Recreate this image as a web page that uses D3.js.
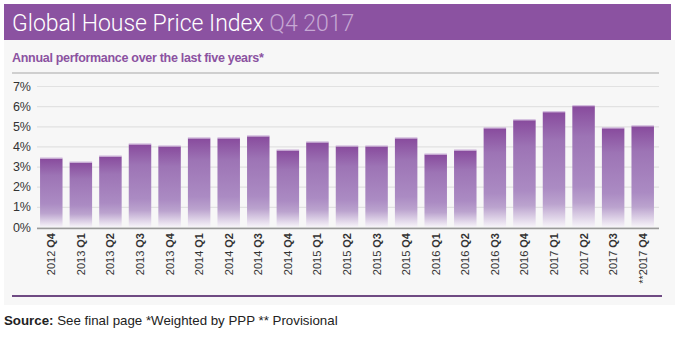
<!DOCTYPE html>
<html>
<head>
<meta charset="utf-8">
<script src="https://cdn.jsdelivr.net/npm/d3@7"></script>
<style>
  body { margin: 0; background: #fff; }
  svg { display: block; }
</style>
</head>
<body>
<div id="chart"></div>
<script>
const years = ["2012", "2013", "2013", "2013", "2013", "2014", "2014", "2014", "2014",
  "2015", "2015", "2015", "2015", "2016", "2016", "2016", "2016", "2017", "2017", "2017", "**2017"];
const quarters = ["Q4", "Q1", "Q2", "Q3", "Q4", "Q1", "Q2", "Q3", "Q4",
  "Q1", "Q2", "Q3", "Q4", "Q1", "Q2", "Q3", "Q4", "Q1", "Q2", "Q3", "Q4"];
const values = [3.4, 3.2, 3.5, 4.1, 4.0, 4.4, 4.4, 4.5, 3.8,
  4.2, 4.0, 4.0, 4.4, 3.6, 3.8, 4.9, 5.3, 5.7, 6.0, 4.9, 5.0];
const yTicks = [0, 1, 2, 3, 4, 5, 6, 7];

const width = 680;
const height = 337;
const purple = "#8b52a1";

const data = values.map((v, i) => ({ key: i, year: years[i], q: quarters[i], value: v }));

const svg = d3.select("#chart")
  .append("svg")
  .attr("width", width)
  .attr("height", height)
  .style("font-family", "'Liberation Sans', Arial, sans-serif");

// gradient for the bars
const grad = svg.append("defs")
  .append("linearGradient")
  .attr("id", "bargrad")
  .attr("x1", "0%").attr("x2", "0%")
  .attr("y1", "0%").attr("y2", "100%");
grad.append("stop").attr("offset", "0%").style("stop-color", "#884b9d");
grad.append("stop").attr("offset", "25%").style("stop-color", "#9d74b5");
grad.append("stop").attr("offset", "66%").style("stop-color", "#ab8bc3");
grad.append("stop").attr("offset", "80%").style("stop-color", "#bba3ce");
grad.append("stop").attr("offset", "100%").style("stop-color", "#f7f4f9");

// panel + header
svg.append("rect").attr("x", 4).attr("y", 40).attr("width", 671).attr("height", 265).attr("fill", "#f7f7f7");
svg.append("rect").attr("x", 4).attr("y", 4).attr("width", 667).attr("height", 36).attr("fill", purple);

const title = svg.append("text")
  .attr("x", 12).attr("y", 31)
  .style("font-family", "Roboto, 'Liberation Sans', sans-serif")
  .style("font-weight", 300)
  .style("font-size", "23px");
title.append("tspan").attr("fill", "#fff").text("Global House Price Index ");
title.append("tspan").attr("fill", "#c6a8d4").text("Q4 2017");

svg.append("text")
  .attr("x", 12).attr("y", 62)
  .attr("fill", purple)
  .style("font-weight", "bold")
  .style("font-size", "12.5px")
  .style("letter-spacing", "-0.3px")
  .text("Annual performance over the last five years*");

svg.append("line")
  .attr("x1", 12).attr("x2", 659).attr("y1", 73).attr("y2", 73)
  .attr("stroke", "#cfcfcf").attr("stroke-width", 2);

// scales
const x = d3.scaleBand()
  .domain(data.map((d) => d.key))
  .range([36.5, 657.5])
  .paddingInner(0.24)
  .paddingOuter(0.12);

const y = d3.scaleLinear()
  .domain([0, 7])
  .range([227, 86]);

// gridlines + y labels
const yAxis = svg.append("g")
  .attr("transform", "translate(37,0)")
  .call(d3.axisLeft(y).tickValues(yTicks).tickSize(-622).tickFormat((d) => d + "%"));
yAxis.select(".domain").remove();
yAxis.selectAll(".tick line").attr("stroke", "#e2e2e2").attr("stroke-width", 1.2);
yAxis.selectAll(".tick text")
  .attr("x", -6)
  .attr("fill", "#333")
  .style("font-family", "'Liberation Sans', Arial, sans-serif")
  .style("font-size", "12.5px");

// bars
svg.append("g")
  .selectAll("rect")
  .data(data)
  .join("rect")
  .attr("x", (d) => x(d.key))
  .attr("y", (d) => y(d.value))
  .attr("width", x.bandwidth())
  .attr("height", (d) => y(0) - y(d.value))
  .attr("fill", "url(#bargrad)");

// light top edge on bars
svg.append("g")
  .selectAll("line")
  .data(data)
  .join("line")
  .attr("x1", (d) => x(d.key))
  .attr("x2", (d) => x(d.key) + x.bandwidth())
  .attr("y1", (d) => y(d.value) - 0.5)
  .attr("y2", (d) => y(d.value) - 0.5)
  .attr("stroke", "#cdb3da")
  .attr("stroke-width", 1);

// x axis
const xAxis = svg.append("g")
  .attr("transform", `translate(0,${y(0) + 1.5})`)
  .call(d3.axisBottom(x).tickSize(0).tickFormat(""));
xAxis.select(".domain").attr("stroke", "#9a9a9a").attr("stroke-width", 1.5)
  .attr("d", "M37,0H659");

const labels = svg.append("g")
  .selectAll("text")
  .data(data)
  .join("text")
  .attr("transform", (d) => `translate(${x(d.key) + x.bandwidth() / 2 + 4},233) rotate(-90)`)
  .attr("text-anchor", "end")
  .attr("fill", "#333")
  .style("font-size", "11px");
labels.append("tspan").text((d) => d.year + " ");
labels.append("tspan").style("font-weight", "bold").text((d) => d.q);

// bottom rule
svg.append("line")
  .attr("x1", 12).attr("x2", 662).attr("y1", 296).attr("y2", 296)
  .attr("stroke", "#6f4a83").attr("stroke-width", 2);

const src = svg.append("text")
  .attr("x", 4).attr("y", 325)
  .attr("fill", "#222")
  .style("font-size", "13.3px");
src.append("tspan").style("font-weight", "bold").text("Source:");
src.append("tspan").text(" See final page *Weighted by PPP ** Provisional");
</script>
</body>
</html>
